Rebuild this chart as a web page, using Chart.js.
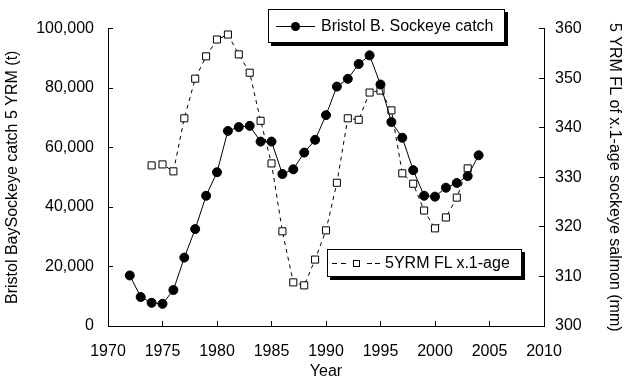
<!DOCTYPE html>
<html>
<head>
<meta charset="utf-8">
<title>Bristol Bay sockeye catch and fork length</title>
<script src="https://cdn.jsdelivr.net/npm/chart.js@4/dist/chart.umd.min.js"></script>
<style>
  html, body { margin: 0; padding: 0; background: #fff; }
  #wrap { position: relative; width: 630px; height: 381px; font-family: "Liberation Sans", Arial, sans-serif; }
  #c { position: absolute; left: 0; top: 0; }
  .leg { position: absolute; box-sizing: border-box; background: #fff; border: 1px solid #000;
         box-shadow: 3px 3px 0 #000; font-size: 16px; color: #000; white-space: nowrap; }
  .leg .txt { position: absolute; top: 0; bottom: 0; display: flex; align-items: center; }
  .leg .ln { position: absolute; height: 1px; background: #000; }
  .leg .dot { position: absolute; width: 9px; height: 9px; border-radius: 50%; background: #000; }
  .leg .sq { position: absolute; width: 5px; height: 5px; border: 1px solid #000; background: #fff; }
</style>
</head>
<body>
<div id="wrap">
  <canvas id="c" width="630" height="381"></canvas>

  <!-- Legende Fang (oben) -->
  <div class="leg" style="left:268px;top:9px;width:237px;height:34px">
    <span class="ln" style="left:7px;width:39px;top:16px"></span>
    <span class="dot" style="left:22px;top:12px"></span>
    <span class="txt" style="left:52px">Bristol B. Sockeye catch</span>
  </div>

  <!-- Legende Gabellänge (unten) -->
  <div class="leg" style="left:327px;top:249px;width:195px;height:28px">
    <span class="ln" style="left:4px;width:5px;top:13px"></span>
    <span class="ln" style="left:13px;width:5px;top:13px"></span>
    <span class="sq" style="left:25px;top:10px"></span>
    <span class="ln" style="left:39px;width:5px;top:13px"></span>
    <span class="ln" style="left:47px;width:5px;top:13px"></span>
    <span class="txt" style="left:57px">5YRM FL x.1-age</span>
  </div>
</div>

<script>
// Fang Bristol Bay (5-Jahres-Mittel, t)
var catchYears = [1972, 1973, 1974, 1975, 1976, 1977, 1978, 1979, 1980, 1981, 1982, 1983, 1984, 1985, 1986, 1987, 1988,
  1989, 1990, 1991, 1992, 1993, 1994, 1995, 1996, 1997, 1998, 1999, 2000, 2001, 2002, 2003, 2004];
var catchTons = [17000, 9750, 7800, 7450, 12100, 23000, 32600, 43800, 51700, 65600, 66900, 67300, 62000, 62000, 51100,
  52700, 58300, 62600, 70900, 80500, 83100, 88100, 91000, 81200, 68600, 63300, 52400, 43800, 43500, 46500, 48100, 50400, 57400];

// Gabellänge x.1-Alter (5-Jahres-Mittel, mm)
var flYears = [1974, 1975, 1976, 1977, 1978, 1979, 1980, 1981, 1982, 1983, 1984, 1985, 1986, 1987, 1988, 1989, 1990,
  1991, 1992, 1993, 1994, 1995, 1996, 1997, 1998, 1999, 2000, 2001, 2002, 2003];
var flMm = [332.4, 332.6, 331.2, 341.9, 349.9, 354.4, 357.8, 358.8, 354.8, 351.1, 341.4, 332.8, 319.1, 308.8, 308.2,
  313.4, 319.3, 328.9, 341.9, 341.6, 347.1, 347.5, 343.5, 330.8, 328.7, 323.3, 319.7, 321.9, 325.9, 331.8];

// Achsen
var yearMin = 1970, yearMax = 2010, yearStep = 5;
var catchMin = 0, catchMax = 100000, catchStep = 20000;
var flMin = 300, flMax = 360, flStep = 10;

Chart.defaults.font.family = '"Liberation Sans", Arial, sans-serif';
Chart.defaults.font.size = 16;
Chart.defaults.color = '#000';

function pts(xs, ys) { return xs.map(function (x, i) { return { x: x, y: ys[i] }; }); }
function fixSize(prop, v) { return function (s) { s[prop] = v; }; }

var axisLine = { display: true, color: '#000', width: 1 };
var tickGrid = { drawOnChartArea: false, drawTicks: true, tickLength: -5, color: '#000' };

new Chart(document.getElementById('c').getContext('2d'), {
  type: 'line',
  data: {
    datasets: [
      { label: 'Bristol B. Sockeye catch', data: pts(catchYears, catchTons), yAxisID: 'yCatch',
        borderColor: '#000', borderWidth: 1, pointStyle: 'circle', pointRadius: 4.5,
        pointBackgroundColor: '#000', pointBorderColor: '#000', tension: 0 },
      { label: '5YRM FL x.1-age', data: pts(flYears, flMm), yAxisID: 'yFl',
        borderColor: '#000', borderWidth: 1, borderDash: [4, 4], pointStyle: 'rect', pointRadius: 5,
        pointBackgroundColor: '#fff', pointBorderColor: '#000', pointBorderWidth: 1, tension: 0 }
    ]
  },
  options: {
    responsive: false, animation: false, devicePixelRatio: 1,
    layout: { padding: { top: 24, left: 0, right: 0, bottom: 0 } },
    plugins: { legend: { display: false }, tooltip: { enabled: false } },
    scales: {
      x: {
        type: 'linear', position: 'bottom', min: yearMin, max: yearMax,
        afterFit: fixSize('height', 55),
        border: axisLine, grid: tickGrid,
        ticks: { stepSize: yearStep, padding: 21, callback: function (v) { return String(v); } },
        title: { display: true, text: 'Year', padding: { top: 0, bottom: 0 } }
      },
      yCatch: {
        type: 'linear', position: 'left', min: catchMin, max: catchMax,
        afterFit: fixSize('width', 108),
        border: axisLine, grid: tickGrid,
        ticks: { stepSize: catchStep, padding: 19, callback: function (v) { return v.toLocaleString('en-US'); } },
        title: { display: true, text: 'Bristol BaySockeye catch 5 YRM (t)', padding: { top: 3, bottom: 0 } }
      },
      yFl: {
        type: 'linear', position: 'right', min: flMin, max: flMax,
        afterFit: fixSize('width', 86),
        border: axisLine, grid: tickGrid,
        ticks: { stepSize: flStep, padding: 16 },
        title: { display: true, text: '5 YRM FL of x.1-age sockeye salmon (mm)', padding: { top: 6, bottom: 0 } }
      }
    }
  }
});
</script>
</body>
</html>
